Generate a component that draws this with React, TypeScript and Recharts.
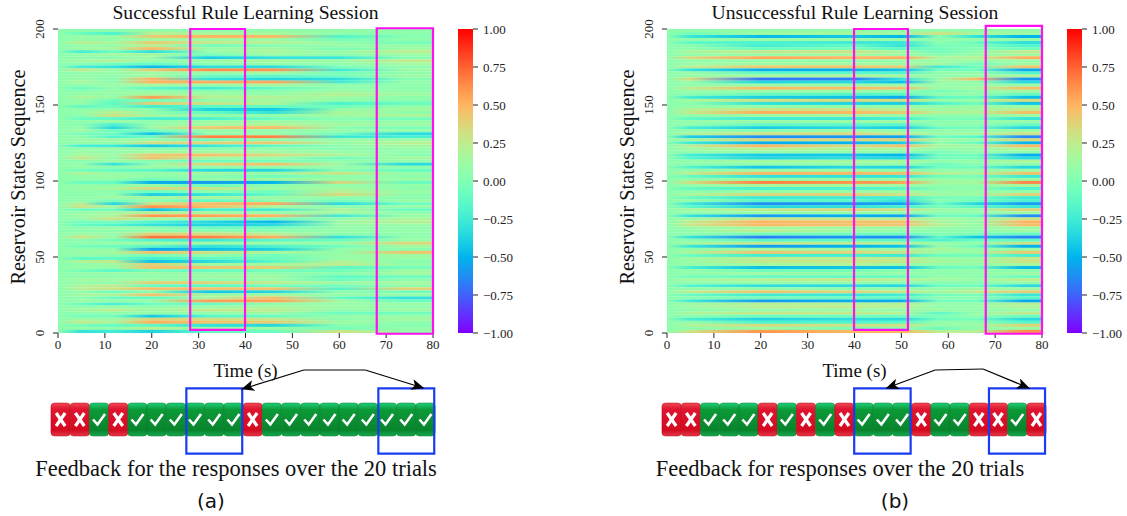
import { Bar, ComposedChart, Line, ReferenceArea, ReferenceLine, XAxis, YAxis } from "recharts";

const SERIF = "'Liberation Serif', 'Times New Roman', serif";

// heatmap: one row per 2 reservoir states, top row first, values in hundredths
const timeKnotsA = [5, 12, 20, 32, 46, 60, 74];
const timeKnotsB = [5, 20, 40, 50, 58, 66, 76];
const xTicks = [0, 10, 20, 30, 40, 50, 60, 70, 80];
const yTicks = [0, 50, 100, 150, 200];
const barTicks = [-1, -0.75, -0.5, -0.25, 0, 0.25, 0.5, 0.75, 1];

const rowsA = [
  [6,6,8,6,8,8,6],[-8,-20,22,16,14,6,6],[10,8,40,50,48,-18,2],[8,8,14,14,12,-4,6],[24,14,40,26,20,8,-4],
  [8,10,24,-4,2,10,8],[12,14,48,10,14,-2,12],[-24,-6,-32,8,16,8,24],[8,14,16,-6,10,4,10],[6,4,12,-40,-30,-28,4],
  [12,22,6,12,16,10,26],[4,-6,-10,4,8,6,14],[-24,-30,-48,-32,-34,-2,6],[28,8,40,62,60,-26,10],[6,10,12,8,14,-4,6],
  [8,6,14,-8,-14,-6,12],[10,4,50,-30,-36,-32,2],[16,4,50,52,54,-24,8],[6,10,14,8,16,6,6],[-8,6,-14,-24,-10,6,4],
  [4,10,6,4,4,10,8],[10,8,18,14,8,22,12],[18,10,58,20,20,12,6],[8,-6,-4,8,14,6,4],[10,-14,40,30,18,-20,-8],
  [-12,-4,-24,-14,-10,-6,6],[6,8,6,-38,-42,8,14],[8,24,8,-10,-30,18,6],[4,30,12,8,8,12,18],[-8,-12,-22,-20,-6,4,-4],
  [6,10,6,10,12,8,8],[4,-22,8,14,20,14,12],[8,-36,12,42,48,4,-2],[12,-8,-6,10,6,8,8],[-4,-6,-44,6,10,-4,-34],
  [6,-18,-8,66,66,-28,-22],[10,12,10,-6,6,10,10],[8,6,32,38,42,8,22],[-22,-26,-42,-28,-12,6,14],[8,12,6,4,8,4,8],
  [10,6,14,14,12,10,6],[16,12,42,46,34,18,4],[28,6,46,14,10,-6,14],[4,10,2,-8,-4,6,8],[8,-30,6,36,46,12,-34],
  [10,4,12,6,8,8,6],[-6,-10,-14,-34,-36,4,-10],[20,8,8,14,10,30,8],[6,12,6,4,-6,6,6],[8,6,-6,8,14,10,10],
  [-8,-10,-52,-58,-50,36,-8],[8,6,12,-8,6,8,8],[10,14,36,28,10,14,6],[6,4,-8,6,-6,22,10],[4,8,-40,-28,-10,36,6],
  [8,12,14,16,12,6,4],[6,-4,8,-12,6,-4,10],[24,-36,30,46,54,-34,-6],[30,10,62,48,16,4,8],[-6,-4,-46,-20,-24,20,-8],
  [10,14,24,16,8,14,6],[12,16,60,56,50,-26,10],[8,32,14,10,-6,8,16],[-6,-4,-18,-34,-48,12,22],[-10,-18,-30,-38,-34,10,10],
  [6,10,8,-8,-4,8,6],[4,6,6,6,4,8,8],[12,8,40,34,22,4,6],[30,8,70,66,52,-32,6],[4,-4,-18,-26,-14,-8,10],
  [6,10,14,12,10,10,36],[-4,-8,-14,-30,-20,-6,14],[6,8,-56,-46,-38,8,4],[10,14,46,30,16,6,44],[8,4,-4,8,-6,10,12],
  [-14,-10,-22,-12,-8,8,10],[20,26,-44,-34,-14,20,4],[6,12,40,12,16,24,8],[10,8,44,44,40,-14,-4],[-4,-14,-4,-10,-4,-6,12],
  [8,10,10,8,6,4,14],[4,6,6,12,14,-12,-6],[14,12,12,4,10,-8,4],[8,6,40,38,24,12,16],[18,24,-10,-14,-6,-4,6],
  [22,30,46,44,44,-18,38],[8,-6,6,-42,-36,6,-4],[14,18,46,12,14,8,8],[6,-8,-10,16,46,-10,-30],[10,8,8,58,56,14,-8],
  [-8,-22,-6,-10,8,8,10],[6,10,6,10,14,12,6],[14,22,10,26,24,6,12],[4,6,8,6,12,-8,-6],[-6,-4,-42,-16,-8,8,8],
  [12,10,38,34,28,4,14],[26,18,52,44,40,12,6],[-4,-10,-12,-30,-36,4,2],[8,6,22,8,10,-4,8],[-30,-24,-38,-10,-8,30,8],
];

const rowsB = [
  [6,8,8,8,10,8,8],[-4,12,14,12,30,14,12],[-28,-48,-42,-50,4,-30,-50],[6,10,10,8,6,8,8],[-14,-20,-26,-28,6,-8,-32],
  [4,-24,-12,-30,-2,-2,-18],[6,-8,-2,-14,-4,2,-6],[16,26,30,14,-6,6,26],[8,10,14,12,4,10,14],[34,54,50,52,16,20,52],
  [8,8,6,10,10,10,10],[10,12,14,12,14,-4,12],[22,42,44,40,-26,-6,44],[-30,-52,-50,-44,-4,-6,-54],[10,-12,-14,-18,8,8,-18],
  [8,16,20,16,6,8,20],[34,-70,-66,-30,10,48,-60],[10,-36,-34,-46,12,8,-34],[6,10,8,12,8,8,10],[24,48,46,44,8,14,46],
  [8,10,10,6,-4,6,14],[4,-8,-16,-14,8,8,-10],[-24,-40,-46,-54,-14,-8,-46],[14,30,34,32,10,10,34],[6,-30,-38,-40,-20,-4,-44],
  [8,8,6,10,8,10,10],[20,30,30,20,12,14,24],[26,52,48,42,20,18,46],[8,10,14,8,6,6,12],[-12,-24,-26,-22,-2,-2,-28],
  [8,10,10,12,4,6,10],[6,-12,-14,-16,6,4,-10],[-22,-40,-34,-40,-8,-4,-36],[8,4,12,6,6,8,12],[18,30,34,24,10,14,30],
  [-40,-62,-60,-56,-6,-14,-64],[14,36,34,38,12,10,36],[-26,-52,-50,-40,8,-8,-50],[22,50,32,46,16,14,48],[12,22,18,14,6,8,20],
  [8,8,8,4,-2,8,6],[-24,-42,-44,-50,-6,-6,-52],[-16,-36,-32,-36,-4,-4,-34],[8,14,14,16,8,8,18],[4,6,8,8,-8,4,6],
  [-18,-44,-34,-38,-6,-6,-36],[8,10,8,4,6,8,10],[24,48,48,46,22,16,44],[-10,-30,-30,-28,-4,-2,-26],[8,10,10,12,10,8,12],
  [32,66,60,56,14,14,64],[8,16,14,12,8,8,16],[-10,-20,-18,-14,4,6,-18],[6,8,10,12,8,10,8],[16,36,40,30,12,10,38],
  [-8,-26,-24,-22,-2,-4,-24],[8,-16,-14,-30,4,-6,-20],[-26,-62,-58,-56,-8,-36,-58],[-14,-36,-30,-22,-2,-14,-28],[14,24,38,30,10,8,38],
  [6,10,8,6,4,6,12],[-30,-58,-50,-56,-6,-10,-62],[10,28,26,22,14,10,30],[26,50,46,46,16,8,50],[28,48,44,42,22,8,46],
  [10,14,12,10,8,8,12],[6,24,10,8,4,4,12],[6,-8,-6,-10,2,-2,-12],[-30,-68,-60,-64,-14,-44,-66],[4,-16,-12,-14,-20,-8,-12],
  [14,26,24,20,8,6,30],[-28,-58,-50,-44,10,-6,-52],[6,16,12,12,16,8,10],[18,44,36,30,10,10,42],[-8,-24,-22,-26,-6,-4,-22],
  [12,24,24,24,12,10,28],[10,26,28,28,14,12,30],[8,14,20,10,8,8,16],[-22,-46,-44,-46,-10,-4,-48],[8,-6,-4,4,6,8,4],
  [6,12,6,8,4,6,12],[-4,-10,-10,-8,8,6,-8],[14,20,28,20,14,8,24],[6,10,8,4,2,4,8],[-18,-32,-34,-36,-8,-6,-34],
  [8,8,6,10,8,12,12],[24,44,36,28,14,26,40],[-10,-24,-28,-24,-4,-2,-28],[4,-2,-8,-12,4,4,-14],[-26,-58,-52,-54,-4,-6,-54],
  [12,22,20,20,8,8,22],[10,22,24,20,6,8,18],[6,8,10,6,12,6,8],[16,28,26,20,-14,8,26],[4,-8,-6,-6,-2,6,-8],
  [-22,-38,-32,-34,-6,-4,-34],[8,-20,-18,-14,8,6,-16],[18,34,30,32,8,10,38],[6,12,-2,6,-8,8,10],[30,60,48,50,22,20,62],
];

// magenta windows: [t from, t to, state from, state to]
const windowsA = [[28.2, 39.9, 2, 200], [68, 80, -0.5, 200.5]];
const windowsB = [[39.9, 51.4, 2, 200], [68, 80, -0.5, 202]];

// feedback per trial, 1 = correct
const trialsA = [0,0,1,0,1,1,1,1,1,1,0,1,1,1,1,1,1,1,1,1];
const trialsB = [0,0,1,1,1,0,1,0,1,0,1,1,1,0,1,1,0,0,1,0];
const boxesA = [[7.05, 9.96], [17.05, 19.96]];
const boxesB = [[10.01, 12.95], [17.03, 19.95]];
// arrow from the top bend down to each box, x in trials
const arrowA = [[9.96, 71], [13.17, 90], [16.37, 90], [19.39, 72]];
const arrowB = [[11.7, 72], [14.23, 90], [16.72, 91], [19.11, 72]];

// matplotlib "rainbow"
const rainbow = (v: number) => {
  const t = Math.max(0, Math.min(1, (v + 1) / 2));
  const r = Math.min(1, Math.abs(2 * t - 0.5));
  const g = Math.sin(Math.PI * t);
  const b = Math.cos((Math.PI * t) / 2);
  return `rgb(${Math.round(r * 255)},${Math.round(g * 255)},${Math.round(b * 255)})`;
};

const HeatRow = (props: any) => {
  const { x, y, width, height, payload } = props;
  const id = `row-${payload.panel}-${payload.state}`;
  // rows overlap a little so no background shows between them
  return (
    <g>
      <linearGradient id={id} x1="0" y1="0" x2="1" y2="0">
        <stop offset="0" stopColor={rainbow(0.05)} />
        {payload.knots.map((t: number, i: number) => (
          <stop key={t} offset={t / 80} stopColor={rainbow(payload.values[i] / 100)} />
        ))}
      </linearGradient>
      <rect x={x} y={y + height / 2 - 1.6} width={width} height={3.2} fill={`url(#${id})`} />
    </g>
  );
};

const RotatedTick = ({ x, y, payload }: any) => (
  <text x={x - 11} y={y} transform={`rotate(-90 ${x - 11} ${y})`} textAnchor="middle" dy={4} fontFamily={SERIF} fontSize={13} fill="#222">
    {payload.value}
  </text>
);

const Heatmap = ({ left, panel, rows, knots, windows }: any) => {
  const data = rows.map((values: number[], i: number) => ({ panel, state: 199 - 2 * i, end: 80, values, knots }));
  return (
    <div style={{ position: "absolute", left, top: 0 }}>
      <ComposedChart layout="vertical" width={443} height={360} data={data} margin={{ top: 29, right: 10, bottom: 0, left: 0 }}>
        <XAxis type="number" dataKey="end" domain={[0, 80]} ticks={xTicks} height={27} axisLine={false} tickSize={5} tickLine={{ stroke: "#222" }} interval={0} tick={{ fontFamily: SERIF, fontSize: 13, fill: "#222" }} />
        <YAxis type="number" dataKey="state" reversed domain={[0, 200]} ticks={yTicks} width={58} axisLine={false} tickSize={5} tickLine={{ stroke: "#222" }} interval={0} tick={<RotatedTick />} />
        <Bar dataKey="end" barSize={3} shape={<HeatRow />} className="heat-rows" isAnimationActive={false} />
      </ComposedChart>
      {/* second chart on top: reference areas would otherwise sit under the rows */}
      <div style={{ position: "absolute", left: 0, top: 0 }}>
        <ComposedChart width={443} height={360} data={data} margin={{ top: 29, right: 10, bottom: 27, left: 58 }}>
          <XAxis type="number" dataKey="end" domain={[0, 80]} hide />
          <YAxis type="number" domain={[0, 200]} hide />
          <Line dataKey="state" stroke="none" dot={false} isAnimationActive={false} />
          {windows.map((w: number[]) => (
            <ReferenceArea key={w[0]} x1={w[0]} x2={w[1]} y1={w[2]} y2={w[3]} fill="none" stroke="#ff10f0" strokeWidth={2.2} ifOverflow="visible" />
          ))}
        </ComposedChart>
      </div>
    </div>
  );
};

const barStops = Array.from({ length: 33 }, (_, i) => 1 - i / 16);

const ColorBar = ({ left, id }: any) => (
  <div style={{ position: "absolute", left, top: 0 }}>
    <ComposedChart width={80} height={350} data={[{ span: [-1, 1] }]} margin={{ top: 29, right: 0, bottom: 17, left: 8 }} barCategoryGap={0}>
      <defs>
        <linearGradient id={id} x1="0" y1="0" x2="0" y2="1">
          {barStops.map((v, i) => (
            <stop key={i} offset={i / 32} stopColor={rainbow(v)} />
          ))}
        </linearGradient>
      </defs>
      <XAxis hide />
      <YAxis orientation="right" domain={[-1, 1]} ticks={barTicks} width={57} axisLine={false} tickSize={5} tickMargin={5} tickLine={{ stroke: "#222" }} interval={0} tickFormatter={(v: number) => v.toFixed(2).replace("-", "\u2212")} tick={{ fontFamily: SERIF, fontSize: 13, fill: "#222" }} />
      <Bar dataKey="span" fill={`url(#${id})`} isAnimationActive={false} />
    </ComposedChart>
  </div>
);

const TrialButton = (props: any) => {
  const { x, y, width, height, payload } = props;
  const cx = x + width / 2;
  const cy = y + height / 2;
  const ok = payload.correct === 1;
  return (
    <g>
      <rect x={cx - 9.7} y={y} width={19.4} height={height} rx={3.5} fill={ok ? "url(#btn-green)" : "url(#btn-red)"} stroke={ok ? "#0a7a30" : "#b80c22"} strokeWidth={0.5} />
      {ok ? (
        <polyline points={`${cx - 6},${cy} ${cx - 1.5},${cy + 5} ${cx + 6},${cy - 5.5}`} fill="none" stroke="#fff" strokeWidth={2.6} />
      ) : (
        <g stroke="#fff" strokeWidth={3.2}>
          <line x1={cx - 4.5} y1={cy - 6.5} x2={cx + 4.5} y2={cy + 6.5} />
          <line x1={cx + 4.5} y1={cy - 6.5} x2={cx - 4.5} y2={cy + 6.5} />
        </g>
      )}
    </g>
  );
};

const FeedbackStrip = ({ left, trials, boxes, arrow, suffix }: any) => {
  const data = trials.map((correct: number, i: number) => ({ trial: i + 0.5, correct, span: [24, 57] }));
  const [a, b, c, d] = arrow;
  const tip = `arrow-tip-${suffix}`;
  return (
    <div style={{ position: "absolute", left, top: 360 }}>
      <ComposedChart width={384} height={100} data={data} margin={{ top: 0, right: 0, bottom: 0, left: 0 }}>
        <defs>
          <linearGradient id="btn-red" x1="0" y1="0" x2="0" y2="1">
            <stop offset="0" stopColor="#ee4a55" />
            <stop offset="0.18" stopColor="#e01530" />
            <stop offset="0.82" stopColor="#d40a20" />
            <stop offset="1" stopColor="#e23a48" />
          </linearGradient>
          <linearGradient id="btn-green" x1="0" y1="0" x2="0" y2="1">
            <stop offset="0" stopColor="#1ed07a" />
            <stop offset="0.2" stopColor="#0c9a38" />
            <stop offset="0.82" stopColor="#08842c" />
            <stop offset="1" stopColor="#18a850" />
          </linearGradient>
        </defs>
        <XAxis type="number" dataKey="trial" domain={[0, 20]} hide />
        <YAxis type="number" domain={[0, 100]} hide />
        <Bar dataKey="span" barSize={19.2} shape={<TrialButton />} isAnimationActive={false} />
      </ComposedChart>
      <div style={{ position: "absolute", left: 0, top: 0 }}>
        <ComposedChart width={384} height={100} data={data} margin={{ top: 0, right: 0, bottom: 0, left: 0 }}>
          <defs>
            <marker id={tip} viewBox="0 0 12 10" refX="11" refY="5" markerWidth="13" markerHeight="11" markerUnits="userSpaceOnUse" orient="auto">
              <path d="M0,0 L12,5 L0,10 L3,5 Z" fill="#000" />
            </marker>
          </defs>
          <XAxis type="number" dataKey="trial" domain={[0, 20]} hide />
          <YAxis type="number" domain={[0, 100]} hide />
          <Line dataKey="correct" stroke="none" dot={false} isAnimationActive={false} />
          {boxes.map((box: number[]) => (
            <ReferenceArea key={box[0]} x1={box[0]} x2={box[1]} y1={6.3} y2={71.7} fill="none" stroke="#1a3cf0" strokeWidth={2.2} ifOverflow="visible" />
          ))}
          <ReferenceLine segment={[{ x: b[0], y: b[1] }, { x: a[0], y: a[1] }]} stroke="#000" strokeWidth={1.2} markerEnd={`url(#${tip})`} ifOverflow="visible" />
          <ReferenceLine segment={[{ x: b[0], y: b[1] }, { x: c[0], y: c[1] }]} stroke="#000" strokeWidth={1.2} ifOverflow="visible" />
          <ReferenceLine segment={[{ x: c[0], y: c[1] }, { x: d[0], y: d[1] }]} stroke="#000" strokeWidth={1.2} markerEnd={`url(#${tip})`} ifOverflow="visible" />
        </ComposedChart>
      </div>
    </div>
  );
};

const Caption = ({ x, y, size, rotate = 0, font = SERIF, children }: any) => (
  <div style={{ position: "absolute", left: x, top: y, transform: `translate(-50%, -50%) rotate(${rotate}deg)`, fontFamily: font, fontSize: size, color: "#111", whiteSpace: "nowrap", lineHeight: 1 }}>
    {children}
  </div>
);

export default function App() {
  return (
    <div style={{ position: "absolute", left: 0, top: 0, width: 1127, height: 516, background: "#fff", overflow: "hidden" }}>
      <style>{".heat-rows { filter: blur(0.35px); } .recharts-surface { overflow: visible; }"}</style>
      <Heatmap left={0} panel="a" rows={rowsA} knots={timeKnotsA} windows={windowsA} />
      <Heatmap left={609} panel="b" rows={rowsB} knots={timeKnotsB} windows={windowsB} />
      <ColorBar left={450} id="bar-a" />
      <ColorBar left={1059} id="bar-b" />

      <Caption x={245.5} y={13} size={19.6}>Successful Rule Learning Session</Caption>
      <Caption x={855} y={13} size={19.6}>Unsuccessful Rule Learning Session</Caption>
      <Caption x={18} y={177} size={20.3} rotate={-90}>Reservoir States Sequence</Caption>
      <Caption x={627} y={177} size={20.3} rotate={-90}>Reservoir States Sequence</Caption>
      <Caption x={245.5} y={370} size={19}>Time (s)</Caption>
      <Caption x={854.5} y={370} size={19}>Time (s)</Caption>

      <FeedbackStrip left={50.7} trials={trialsA} boxes={boxesA} arrow={arrowA} suffix="a" />
      <FeedbackStrip left={662} trials={trialsB} boxes={boxesB} arrow={arrowB} suffix="b" />

      <Caption x={236} y={469} size={22.5}>Feedback for the responses over the 20 trials</Caption>
      <Caption x={840} y={469} size={22.5}>Feedback for responses over the 20 trials</Caption>
      <Caption x={211} y={501} size={20} font="'DejaVu Sans', sans-serif">(a)</Caption>
      <Caption x={895} y={501} size={20} font="'DejaVu Sans', sans-serif">(b)</Caption>
    </div>
  );
}
